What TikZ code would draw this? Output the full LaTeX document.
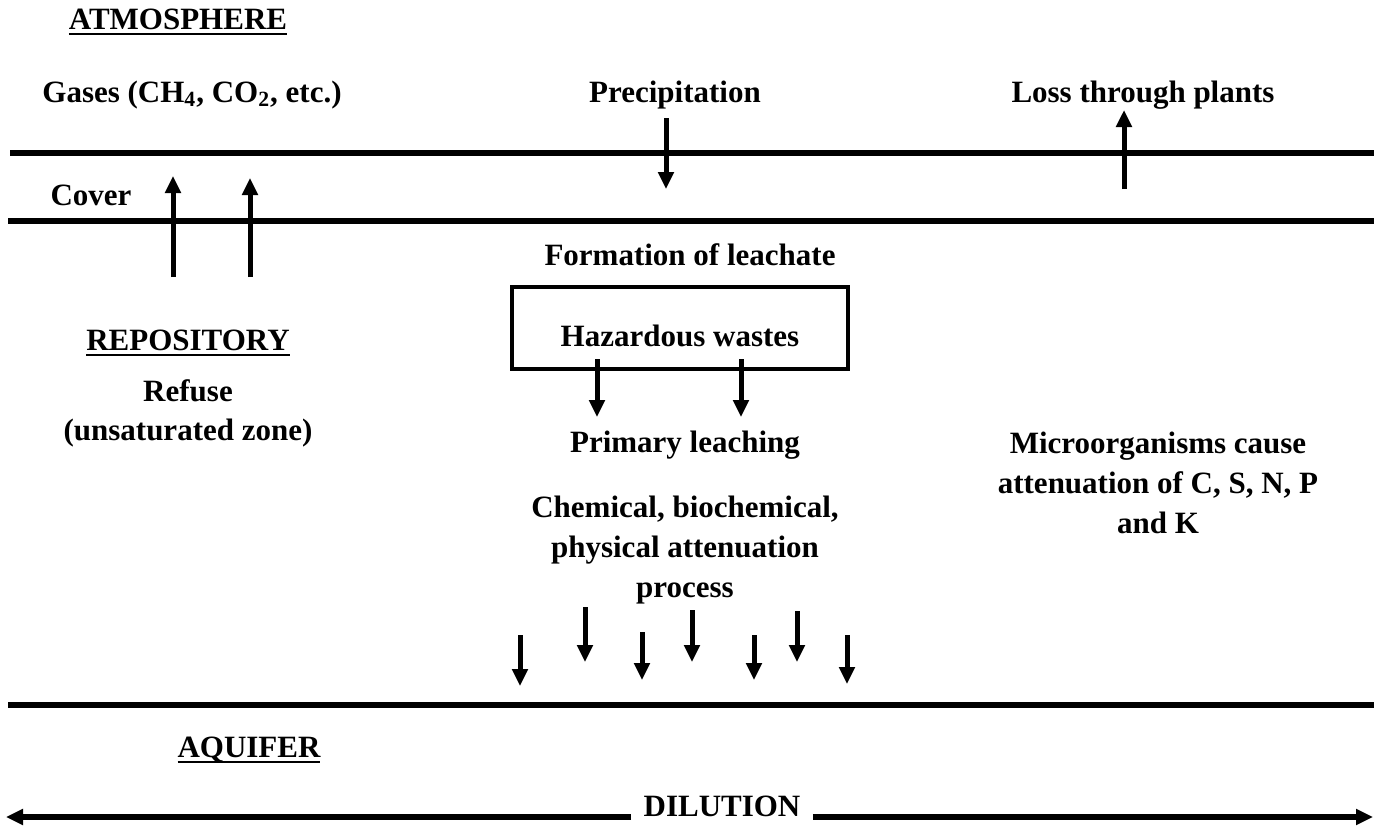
\documentclass[tikz,border=0pt]{standalone}
\usepackage{fontspec}
\setmainfont{Liberation Serif}
\usetikzlibrary{arrows.meta}
% heading underline, a little heavier than \underline
\newsavebox{\ulbox}
\newcommand{\heading}[1]{\sbox{\ulbox}{#1}\rlap{\usebox{\ulbox}}\rule[-2.6pt]{\wd\ulbox}{0.9pt}}
\begin{document}
\begin{tikzpicture}[x=0.5pt,y=-0.5pt,
  lbl/.style={font=\fontsize{15.5}{20}\selectfont\bfseries, inner sep=0pt, align=center},
  layer/.style={line width=2.6pt},
  tip/.style={-{Triangle[width=7.6pt,length=8.5pt]}},
  flow/.style={line width=2.5pt, tip},
]
\useasboundingbox (0,0) rectangle (1374,825);

% zone boundaries
\coordinate (t1) at (10,153);  \coordinate (t2) at (1374,153);
\coordinate (c1) at (8,221);   \coordinate (c2) at (1374,221);
\coordinate (a1) at (8,705);   \coordinate (a2) at (1374,705);
\draw[layer] (t1) -- (t2);
\draw[layer] (c1) -- (c2);
\draw[layer] (a1) -- (a2);

% atmosphere
\node[lbl] (atm) at (178,22) {\heading{ATMOSPHERE}};
\node[lbl] (gas) at (192,95) {Gases (CH\textsubscript{4}, CO\textsubscript{2}, etc.)};
\node[lbl] (prec) at (675,95) {Precipitation};
\node[lbl] (loss) at (1143,95) {Loss through plants};
\node[lbl] (cover) at (91,195) {Cover};

% flows across the cover
\coordinate (g1s) at (173,277); \coordinate (g1e) at (173,176);
\coordinate (g2s) at (250,277); \coordinate (g2e) at (250,178);
\draw[flow] (g1s) -- (g1e);
\draw[flow] (g2s) -- (g2e);
\coordinate (ps) at (666,118); \coordinate (pe) at (666,189);
\draw[flow] (ps) -- (pe);
\coordinate (ls) at (1124,189); \coordinate (le) at (1124,110);
\draw[flow] (ls) -- (le);

% repository
\node[lbl] (form) at (690,255) {Formation of leachate};
\node[draw, line width=2.2pt, minimum width=168pt, minimum height=41pt, inner sep=0pt] (box) at (680,328) {};
\node[lbl] (haz) at (680,336) {Hazardous wastes};
\coordinate (h1) at (597,417); \coordinate (h2) at (741,417);
\draw[flow] ([yshift=6pt]box.south -| h1) -- (h1);
\draw[flow] ([yshift=6pt]box.south -| h2) -- (h2);

\node[lbl] (rep) at (188,343) {\heading{REPOSITORY}};
\node[lbl] (ref) at (188,391) {Refuse};
\node[lbl] (uns) at (188,433) {(unsaturated zone)};

\node[lbl] (prim) at (685,445) {Primary leaching};
\node[lbl, anchor=north] (chem) at (685,496) {Chemical, biochemical,\\physical attenuation\\process};
\node[lbl, anchor=north] (micro) at (1158,432) {Microorganisms cause\\attenuation of C, S, N, P\\and K};

% percolation towards the aquifer
\foreach \i/\x/\ya/\yb in {1/520/635/686, 2/585/607/662, 3/642/632/680, 4/692/610/662, 5/754/635/680, 6/797/611/662, 7/847/635/684}{
  \coordinate (d\i a) at (\x,\ya);
  \coordinate (d\i b) at (\x,\yb);
  \draw[flow] (d\i a) -- (d\i b);
}

% aquifer
\node[lbl] (aq) at (249,750) {\heading{AQUIFER}};
\node[lbl] (dil) at (722,806) {DILUTION};
\coordinate (dl) at (6,817); \coordinate (dr) at (1373,817);
\draw[layer, tip] ([xshift=-6pt]dil.west |- dl) -- (dl);
\draw[layer, tip] ([xshift=6pt]dil.east |- dr) -- (dr);
\end{tikzpicture}
\end{document}
